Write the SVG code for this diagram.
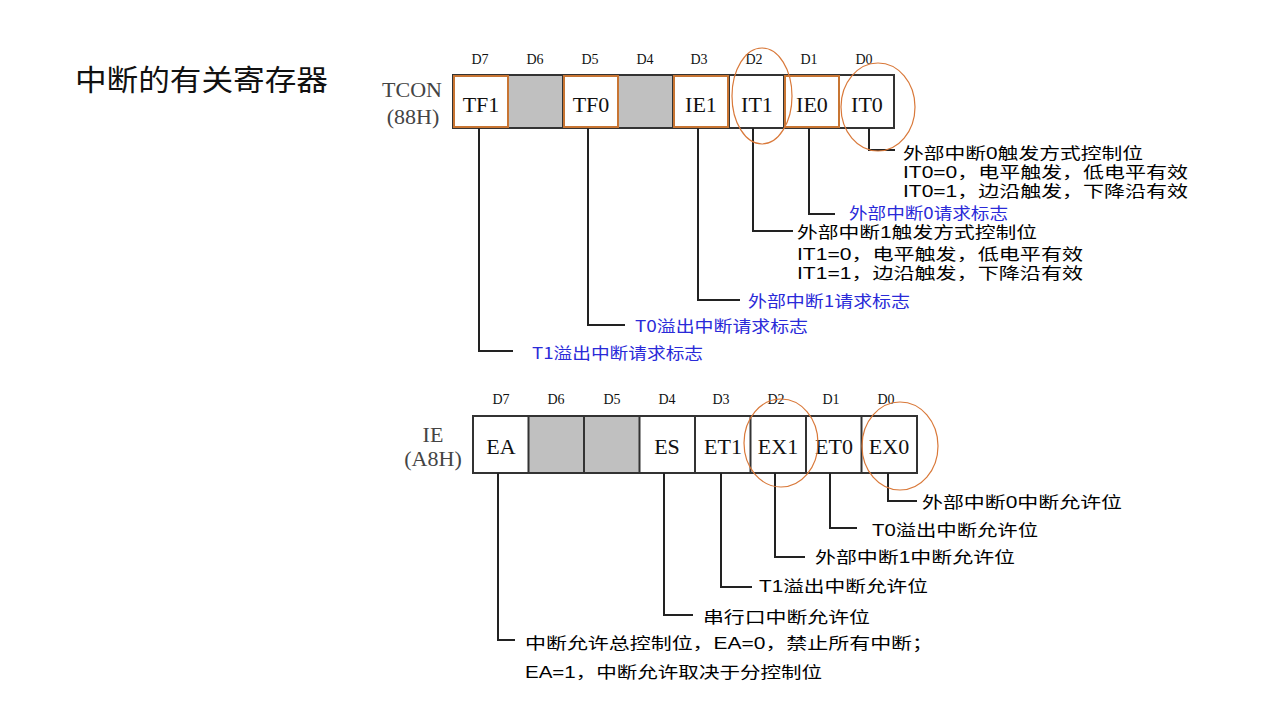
<svg xmlns="http://www.w3.org/2000/svg" width="1280" height="720" viewBox="0 0 1280 720">
<style>
.bg{fill:#ffffff}
.title{font-family:"Noto Sans CJK SC","Noto Sans",sans-serif;font-size:29px;fill:#111}
.d{font-family:"Liberation Serif",serif;font-size:14px;fill:#111;text-anchor:middle}
.reg{font-family:"Liberation Serif",serif;font-size:22px;fill:#444;text-anchor:middle}
.cell{fill:#fff;stroke:#333;stroke-width:2}
.cello{fill:#fff;stroke:#c87533;stroke-width:2}
.gray{fill:#c0c0c0;stroke:#333;stroke-width:2}
.ct{font-family:"Liberation Serif",serif;font-size:22px;fill:#111;text-anchor:middle}
.ann{font-family:"Liberation Sans","Noto Sans CJK SC",sans-serif;font-size:16px;fill:#000}
.blue{font-family:"Noto Sans CJK SC","Noto Sans",sans-serif;font-size:16px;fill:#2a2ad8}
.ln{fill:none;stroke:#222;stroke-width:2}
.ring{fill:none;stroke:#d9793a;stroke-width:1.2}
</style>
<rect class="bg" x="0" y="0" width="1280" height="720"/>
<text class="title" x="75" y="91" textLength="253" lengthAdjust="spacingAndGlyphs">中断的有关寄存器</text>

<g id="tcon">
  <text class="reg" x="412" y="97">TCON</text>
  <text class="reg" x="413" y="124">(88H)</text>
  <g class="d">
    <text x="480" y="64">D7</text><text x="535" y="64">D6</text><text x="590" y="64">D5</text><text x="645" y="64">D4</text>
    <text x="699" y="64">D3</text><text x="754" y="64">D2</text><text x="809" y="64">D1</text><text x="864" y="64">D0</text>
  </g>
  <rect class="cell" x="453" y="75" width="441" height="53"/>
  <rect class="gray" x="508" y="75" width="55" height="53"/>
  <rect class="gray" x="618" y="75" width="55" height="53"/>
  <rect class="cell" x="729" y="75" width="55" height="53"/>
  <rect class="cell" x="839" y="75" width="55" height="53"/>
  <rect class="cello" x="454" y="76" width="54" height="51"/>
  <rect class="cello" x="564" y="76" width="54" height="51"/>
  <rect class="cello" x="674" y="76" width="54" height="51"/>
  <rect class="cello" x="785" y="76" width="54" height="51"/>
  <text class="ct" x="481" y="112">TF1</text>
  <text class="ct" x="591" y="112">TF0</text>
  <text class="ct" x="701" y="112">IE1</text>
  <text class="ct" x="757" y="112">IT1</text>
  <text class="ct" x="812" y="112">IE0</text>
  <text class="ct" x="867" y="112">IT0</text>
</g>

<g id="ie">
  <text class="reg" x="433" y="442">IE</text>
  <text class="reg" x="433" y="466">(A8H)</text>
  <g class="d">
    <text x="501" y="404">D7</text><text x="556" y="404">D6</text><text x="612" y="404">D5</text><text x="667" y="404">D4</text>
    <text x="721" y="404">D3</text><text x="776" y="404">D2</text><text x="831" y="404">D1</text><text x="886" y="404">D0</text>
  </g>
  <rect class="cell" x="473" y="416" width="444" height="57"/>
  <rect class="gray" x="528.5" y="416" width="55.5" height="57"/>
  <rect class="gray" x="584" y="416" width="55.5" height="57"/>
  <line class="cell" x1="695" y1="416" x2="695" y2="473"/>
  <line class="cell" x1="750.5" y1="416" x2="750.5" y2="473"/>
  <line class="cell" x1="806" y1="416" x2="806" y2="473"/>
  <line class="cell" x1="861.5" y1="416" x2="861.5" y2="473"/>
  <text class="ct" x="501" y="454">EA</text>
  <text class="ct" x="667" y="454">ES</text>
  <text class="ct" x="723" y="454">ET1</text>
  <text class="ct" x="778" y="454">EX1</text>
  <text class="ct" x="834" y="454">ET0</text>
  <text class="ct" x="889" y="454">EX0</text>
</g>

<g id="connectors">
  <polyline class="ln" points="869,128 869,150 895,150"/>
  <polyline class="ln" points="809,128 809,214 835,214"/>
  <polyline class="ln" points="753,128 753,231 793,231"/>
  <polyline class="ln" points="698,128 698,300 740,300"/>
  <polyline class="ln" points="588,128 588,325 625,325"/>
  <polyline class="ln" points="479,128 479,351 513,351"/>
  <polyline class="ln" points="888,473 888,501 917,501"/>
  <polyline class="ln" points="830,473 830,528 857,528"/>
  <polyline class="ln" points="775,473 775,557 805,557"/>
  <polyline class="ln" points="721,473 721,587 752,587"/>
  <polyline class="ln" points="664,473 664,615 693,615"/>
  <polyline class="ln" points="498,473 498,640 515,640"/>
</g>

<g id="tcon-labels">
  <text class="ann" x="903" y="159" textLength="240" lengthAdjust="spacingAndGlyphs">外部中断0触发方式控制位</text>
  <text class="ann" x="903" y="178" textLength="285" lengthAdjust="spacingAndGlyphs">IT0=0，电平触发，低电平有效</text>
  <text class="ann" x="903" y="197" textLength="285" lengthAdjust="spacingAndGlyphs">IT0=1，边沿触发，下降沿有效</text>
  <text class="blue" x="849" y="219" textLength="159" lengthAdjust="spacingAndGlyphs">外部中断0请求标志</text>
  <text class="ann" x="797" y="238" textLength="240" lengthAdjust="spacingAndGlyphs">外部中断1触发方式控制位</text>
  <text class="ann" x="797" y="260" textLength="286" lengthAdjust="spacingAndGlyphs">IT1=0，电平触发，低电平有效</text>
  <text class="ann" x="797" y="279" textLength="286" lengthAdjust="spacingAndGlyphs">IT1=1，边沿触发，下降沿有效</text>
  <text class="blue" x="748" y="307" textLength="162" lengthAdjust="spacingAndGlyphs">外部中断1请求标志</text>
  <text class="blue" x="635" y="332" textLength="173" lengthAdjust="spacingAndGlyphs">T0溢出中断请求标志</text>
  <text class="blue" x="532" y="359" textLength="171" lengthAdjust="spacingAndGlyphs">T1溢出中断请求标志</text>
</g>

<g id="ie-labels">
  <text class="ann" x="922" y="508" textLength="200" lengthAdjust="spacingAndGlyphs">外部中断0中断允许位</text>
  <text class="ann" x="872" y="536" textLength="166" lengthAdjust="spacingAndGlyphs">T0溢出中断允许位</text>
  <text class="ann" x="815" y="563" textLength="200" lengthAdjust="spacingAndGlyphs">外部中断1中断允许位</text>
  <text class="ann" x="759" y="592" textLength="169" lengthAdjust="spacingAndGlyphs">T1溢出中断允许位</text>
  <text class="ann" x="703" y="623" textLength="167" lengthAdjust="spacingAndGlyphs">串行口中断允许位</text>
  <text class="ann" x="525" y="649" textLength="408" lengthAdjust="spacingAndGlyphs">中断允许总控制位，EA=0，禁止所有中断；</text>
  <text class="ann" x="525" y="678" textLength="297" lengthAdjust="spacingAndGlyphs">EA=1，中断允许取决于分控制位</text>
</g>

<g id="highlights">
  <ellipse class="ring" cx="762" cy="96" rx="30" ry="48"/>
  <ellipse class="ring" cx="878" cy="107" rx="37" ry="44"/>
  <ellipse class="ring" cx="781" cy="443" rx="37" ry="44"/>
  <ellipse class="ring" cx="900" cy="446" rx="38" ry="44"/>
</g>
</svg>
